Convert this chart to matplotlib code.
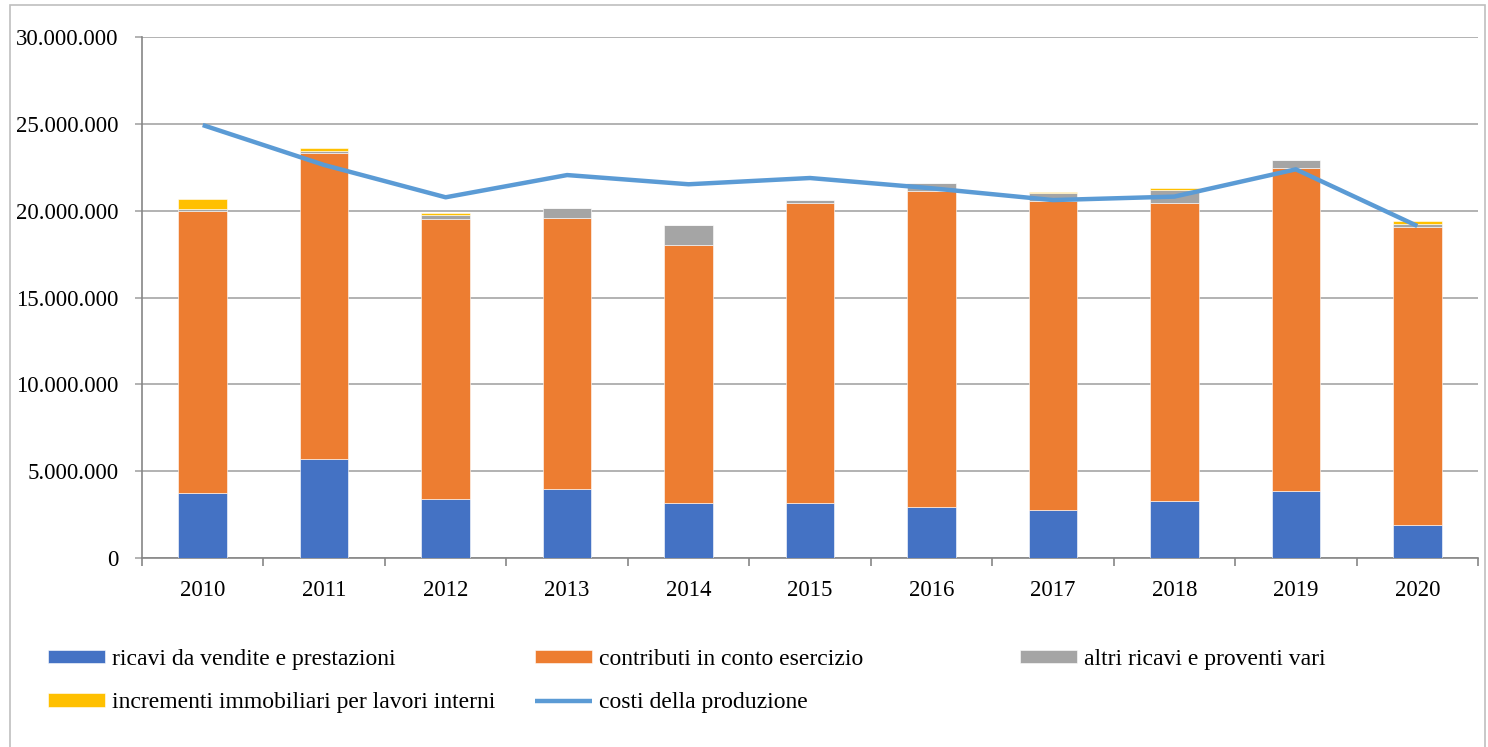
import matplotlib
matplotlib.use("Agg")
import matplotlib.pyplot as plt
from matplotlib.ticker import FuncFormatter, FixedLocator
from matplotlib.patches import Rectangle
import numpy as np

years = ["2010", "2011", "2012", "2013", "2014", "2015", "2016", "2017", "2018", "2019", "2020"]
ricavi = [3740000, 5700000, 3400000, 3970000, 3170000, 3170000, 2940000, 2760000, 3280000, 3860000, 1900000]
contributi = [16260000, 17640000, 16100000, 15590000, 14830000, 17270000, 18210000, 17810000, 17180000, 18600000, 17180000]
altri = [100000, 110000, 250000, 610000, 1150000, 170000, 430000, 430000, 730000, 460000, 150000]
incrementi = [600000, 150000, 100000, 0, 0, 0, 0, 80000, 130000, 0, 170000]
costi = [24930000, 22630000, 20770000, 22050000, 21520000, 21880000, 21290000, 20610000, 20810000, 22380000, 19120000]

labels = ["ricavi da vendite e prestazioni", "contributi in conto esercizio",
          "altri ricavi e proventi vari", "incrementi immobiliari per lavori interni",
          "costi della produzione"]
colors = ["#4472C4", "#ED7D31", "#A5A5A5", "#FFC000"]
line_color = "#5B9BD5"

plt.rcParams['font.family'] = ['Liberation Serif', 'DejaVu Serif']
FS = 16.5
LFS = 17

W, H = 1488, 747
fig = plt.figure(figsize=(W / 100, H / 100), dpi=100)
fig.patches.append(Rectangle((10 / W, -0.01), (1485 - 10) / W, 1 - 5 / H + 0.01,
                             transform=fig.transFigure, fill=False,
                             edgecolor="#BFBFBF", linewidth=1.2))

ax = fig.add_axes([142 / W, 1 - 558 / H, (1478 - 142) / W, (558 - 37) / H])
x = np.arange(len(years))
bw = 0.40
bottom = np.zeros(len(years))
handles = []
for vals, c, lab in zip([ricavi, contributi, altri, incrementi], colors, labels[:4]):
    v = np.array(vals, dtype=float)
    b = ax.bar(x, v, bw, bottom=bottom, color=c, edgecolor="white", linewidth=0.4, label=lab, zorder=3)
    handles.append(b)
    bottom += v
ln, = ax.plot(x, costi, color=line_color, linewidth=3.2, label=labels[4], zorder=4,
              solid_capstyle="butt")
handles.append(ln)

ax.set_xlim(-0.5, len(years) - 0.5)
ax.set_ylim(0, 30000000)
ax.yaxis.set_major_locator(FixedLocator(np.arange(0, 30000001, 5000000)))
ax.yaxis.set_major_formatter(FuncFormatter(lambda v, p: f"{int(v):,}".replace(",", ".")))
ax.grid(axis="y", color="#A6A6A6", linewidth=1.2, zorder=0)
ax.set_axisbelow(True)

ax.set_xticks(x)
ax.set_xticklabels(years)
ax.set_xticks(np.arange(-0.5, len(years)), minor=True)
ax.tick_params(axis="x", which="major", length=0, pad=16, labelsize=FS)
ax.tick_params(axis="x", which="minor", length=6, width=1.2, color="#868686", direction="out")
ax.tick_params(axis="y", length=5, width=1.2, color="#A6A6A6", pad=12, labelsize=FS)

for s in ["top", "right"]:
    ax.spines[s].set_visible(False)
ax.spines["left"].set_color("#868686")
ax.spines["left"].set_linewidth(1.2)
ax.spines["bottom"].set_color("#868686")
ax.spines["bottom"].set_linewidth(1.2)

cols = [(48, [0, 3]), (535, [1, 4]), (1020, [2])]
for cx, idxs in cols:
    fig.legend([handles[i] for i in idxs], [labels[i] for i in idxs],
               loc="upper left", bbox_to_anchor=(cx / W, 1 - 649 / H),
               frameon=False, fontsize=LFS, borderpad=0, borderaxespad=0,
               handlelength=2.4, handleheight=0.5, handletextpad=0.3,
               labelspacing=0.95)

fig.savefig("out.png", dpi=100)
